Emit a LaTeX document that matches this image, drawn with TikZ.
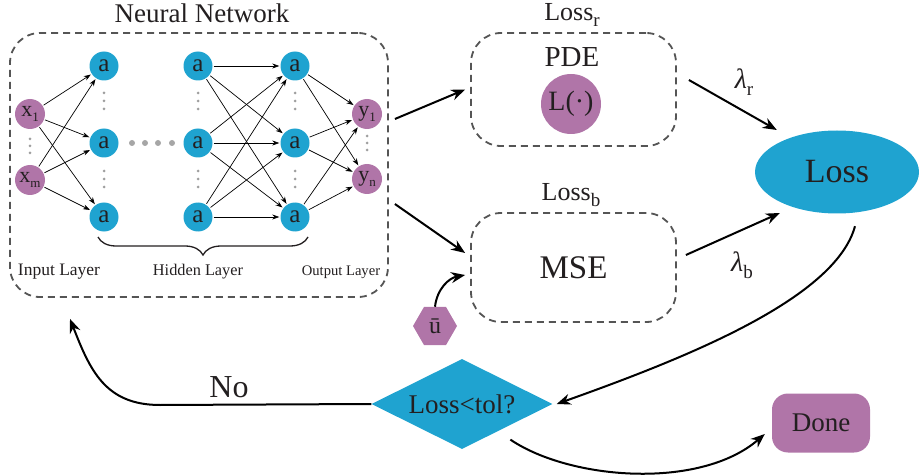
\documentclass[tikz,border=0pt]{standalone}
\usepackage{fontspec}
\setmainfont{Liberation Serif}
\usetikzlibrary{arrows.meta,shapes.geometric,decorations.pathreplacing}
\definecolor{nnblue}{RGB}{31,163,208}
\definecolor{nnpurple}{RGB}{176,117,168}
\definecolor{dashgray}{RGB}{85,85,85}
\definecolor{ink}{RGB}{35,31,32}
\newcommand{\fsz}[1]{\fontsize{#1}{#1}\selectfont}
\begin{document}
\begin{tikzpicture}[x=1pt,y=-1pt,
 neuron/.style={circle,fill=nnblue,minimum size=29pt,inner sep=0pt,font=\fsz{25},text=ink},
 ionode/.style={circle,fill=nnpurple,minimum size=30pt,inner sep=0pt,font=\fsz{22},text=ink},
 conn/.style={-{Stealth[length=7pt,width=5pt]},line width=0.7pt,shorten >=1pt,shorten <=1pt},
 dbox/.style={draw=dashgray,dash pattern=on 7pt off 5pt,line width=1.8pt,rounded corners=30pt,inner sep=0pt},
 bigarrow/.style={-{Stealth[length=14pt,width=11pt]},line width=2pt},
 vdot/.style={circle,fill=gray!75,inner sep=0pt,minimum size=3pt},
 hdot/.style={circle,fill=gray!70,inner sep=0pt,minimum size=6pt},
 lbl/.style={inner sep=0pt,text=ink}
]
\useasboundingbox (0,0) rectangle (919,476);

% Neural network frame
\node[dbox,minimum width=378pt,minimum height=264pt] (nn) at (199,165) {};
\node[lbl,font=\fsz{27}] (title) at (202,13) {Neural Network};

% neurons
\node[ionode] (in1) at (30,114) {x\raisebox{-5pt}{\fsz{13}1}};
\node[ionode] (in2) at (30,180) {x\raisebox{-5pt}{\fsz{13}m}};
\foreach \i/\y in {1/66,2/143,3/217} {
  \node[neuron] (ha\i) at (104,\y) {a};
  \node[neuron] (hb\i) at (198,\y) {a};
  \node[neuron] (hc\i) at (295,\y) {a};
}
\node[ionode] (out1) at (367,114) {y\raisebox{-5pt}{\fsz{13}1}};
\node[ionode] (out2) at (367,179) {y\raisebox{-5pt}{\fsz{13}n}};

% connections
\foreach \s in {in1,in2} \foreach \t in {ha1,ha2,ha3} \draw[conn] (\s) -- (\t);
\foreach \s in {hb1,hb2,hb3} \foreach \t in {hc1,hc2,hc3} \draw[conn] (\s) -- (\t);
\foreach \s in {hc1,hc2,hc3} \foreach \t in {out1,out2} \draw[conn] (\s) -- (\t);

% dots
\foreach \x in {104,198,295} {
  \foreach \y in {93,101,109,171,179,187} \node[vdot] at (\x,\y) {};
}
\foreach \y in {139,146,153} \node[vdot] at (30,\y) {};
\foreach \y in {136,143,150} \node[vdot] at (367,\y) {};
\foreach \x in {132,145,158,172} \node[hdot] at (\x,143) {};

% brace and layer labels
\draw[decorate,decoration={brace,mirror,amplitude=18pt},line width=1.3pt,ink] (98,237) -- (308,237);
\node[lbl,font=\fsz{17.5}] (linput) at (59,272) {Input Layer};
\node[lbl,font=\fsz{16.3}] (lhidden) at (198,272) {Hidden Layer};
\node[lbl,font=\fsz{14.6}] (loutput) at (341,272) {Output Layer};

% loss boxes
\node[dbox,minimum width=205pt,minimum height=113pt] (pde) at (573.5,89.5) {};
\node[lbl,font=\fsz{26}] (lossr) at (572,15) {Loss\raisebox{-6pt}{\fsz{19}r}};
\node[lbl,font=\fsz{29}] (pdetext) at (572,57) {PDE};
\node[circle,fill=nnpurple,minimum size=60pt,inner sep=0pt,font=\fsz{28},text=ink] (lop) at (571,104) {L(·)};

\node[dbox,minimum width=205pt,minimum height=109pt,font=\fsz{33},text=ink] (mse) at (573.5,267.5) {MSE};
\node[lbl,font=\fsz{26}] (lossb) at (571,195) {Loss\raisebox{-6pt}{\fsz{19}b}};

\node[regular polygon,regular polygon sides=6,fill=nnpurple,minimum size=44pt,inner sep=0pt,font=\fsz{24},text=ink] (ubar) at (435,326) {ū};

% Loss ellipse
\node[ellipse,fill=nnblue,minimum width=164pt,minimum height=83pt,inner sep=0pt,font=\fsz{34},text=ink] (loss) at (837,172) {Loss};

% decision and done
\node[diamond,aspect=2,fill=nnblue,minimum width=181pt,minimum height=90pt,inner sep=0pt,font=\fsz{27},text=ink] (dec) at (462,404) {Loss<tol?};
\node[rounded corners=16pt,fill=nnpurple,minimum width=98pt,minimum height=59pt,inner sep=0pt,font=\fsz{27},text=ink] (done) at (821,423) {Done};

% weights
\node[lbl,font=\fsz{28}\itshape] (lamr) at (744,82) {λ\raisebox{-7pt}{\upshape\fsz{19}r}};
\node[lbl,font=\fsz{28}\itshape] (lamb) at (742,265) {λ\raisebox{-7pt}{\upshape\fsz{19}b}};

% main arrows
\draw[bigarrow] ([shift={(6,-46)}]nn.east) -- ([shift={(-5,0)}]pde.west);
\draw[bigarrow] ([shift={(6,39)}]nn.east) -- ([shift={(-5,-14.5)}]mse.west);
\draw[bigarrow] ([shift={(12,-9.5)}]pde.east) -- ([shift={(22,-42)}]loss.west);
\draw[bigarrow] ([shift={(9,-12.5)}]mse.east) -- ([shift={(25,41)}]loss.west);
\draw[bigarrow] (ubar.north) .. controls +(2,-18) and +(-16,3) .. ([shift={(-5,7.5)}]mse.west);
\draw[bigarrow] ([shift={(18,12.5)}]loss.south) .. controls (835,300) and (680,360) .. ([xshift=4pt]dec.east);
\draw[bigarrow] (dec.west) -- (160,405) .. controls (105,405) and (90,370) .. ([shift={(-129,21)}]nn.south);
\node[lbl,font=\fsz{32}] (no) at (229,387) {No};
\draw[bigarrow] ([shift={(3,13)}]dec.south east) .. controls (570,480) and (700,490) .. ([shift={(-7,11)}]done.west);
\end{tikzpicture}
\end{document}
